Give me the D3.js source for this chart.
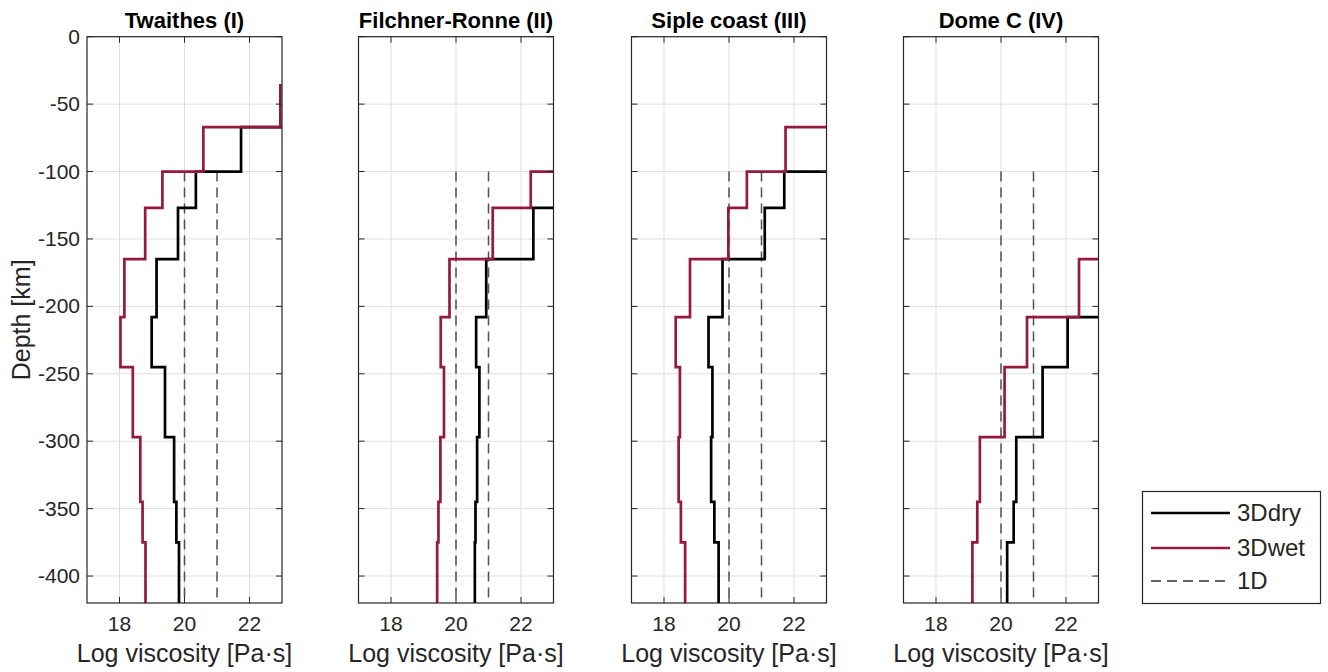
<!DOCTYPE html>
<html>
    <head>
        <script src="https://d3js.org/d3.v7.js"></script>
        <style>
            body{
                margin: 0;
                background: white;
            }
            text{
                font-family: 'Liberation Sans', Arial, sans-serif;
                fill: #262626;
            }
        </style>
    </head>
    <body>
        <div class='graph'></div>
        <script>
            // data: log10 viscosity per depth layer (km)
            const regions = ['Twaithes (I)', 'Filchner-Ronne (II)', 'Siple coast (III)', 'Dome C (IV)']
            const layerDepths = [35, 67, 100, 127, 165, 208, 245, 297, 345, 375, 420]

            // 24 = above the plotted range (clipped)
            const dryTwaithes = [24.0, 21.74, 20.35, 19.80, 19.14, 18.99, 19.40, 19.68, 19.75, 19.83]
            const wetTwaithes = [22.95, 20.58, 19.32, 18.79, 18.15, 18.03, 18.41, 18.64, 18.71, 18.80]
            const dryFilchner = [24.0, 24.0, 24.0, 22.38, 20.93, 20.62, 20.72, 20.65, 20.60, 20.58]
            const wetFilchner = [24.0, 24.0, 22.30, 21.13, 19.80, 19.53, 19.63, 19.52, 19.46, 19.42]
            const drySiple = [24.0, 24.0, 21.70, 21.10, 19.80, 19.37, 19.49, 19.45, 19.55, 19.68]
            const wetSiple = [24.0, 21.74, 20.55, 19.98, 18.80, 18.36, 18.49, 18.45, 18.52, 18.65]
            const dryDome = [24.0, 24.0, 24.0, 24.0, 24.0, 22.05, 21.28, 20.47, 20.39, 20.19]
            const wetDome = [24.0, 24.0, 24.0, 24.0, 22.40, 20.80, 20.11, 19.35, 19.27, 19.12]

            const oneDValues = [20, 21]
            const oneDDepths = [100, 420]

            const xTicks = [18, 20, 22]
            const yTicks = [0, -50, -100, -150, -200, -250, -300, -350, -400]
            const legendLabels = ['3Ddry', '3Dwet', '1D']

            const dry = [dryTwaithes, dryFilchner, drySiple, dryDome]
            const wet = [wetTwaithes, wetFilchner, wetSiple, wetDome]

            const w = 1328
            const h = 672
            const panelLeft = [87, 358.5, 631.5, 903.5]
            const panelW = 195
            const plotTop = 36.7
            const plotBottom = 603
            const wetColour = '#951a3b'
            const axisColour = '#262626'

            const svg = d3.select('.graph')
                    .append('svg')
                    .attr('width', w)
                    .attr('height', h)

            const y = d3.scaleLinear()
                        .domain([-420, 0])
                        .range([plotBottom, plotTop])

            function stairs(values){
                const pts = []
                values.forEach((v, i) => {
                    pts.push([v, -layerDepths[i]])
                    pts.push([v, -layerDepths[i + 1]])
                })
                return pts
            }

            regions.forEach((name, p) => {
                const left = panelLeft[p]
                const x = d3.scaleLinear()
                            .domain([17, 23])
                            .range([left, left + panelW])

                const g = svg.append('g')

                g.append('clipPath')
                    .attr('id', 'clip' + p)
                    .append('rect')
                    .attr('x', left)
                    .attr('y', plotTop)
                    .attr('width', panelW)
                    .attr('height', plotBottom - plotTop)

                // grid
                g.selectAll('.vgrid')
                    .data(xTicks)
                    .enter()
                    .append('line')
                    .attr('x1', d => x(d)).attr('x2', d => x(d))
                    .attr('y1', plotTop).attr('y2', plotBottom)
                    .attr('stroke', '#dfdfdf')
                g.selectAll('.hgrid')
                    .data(yTicks)
                    .enter()
                    .append('line')
                    .attr('x1', left).attr('x2', left + panelW)
                    .attr('y1', d => y(d)).attr('y2', d => y(d))
                    .attr('stroke', '#dfdfdf')

                const line = d3.line()
                                .x(d => x(d[0]))
                                .y(d => y(d[1]))

                const plot = g.append('g').attr('clip-path', 'url(#clip' + p + ')')

                oneDValues.forEach(v => {
                    plot.append('path')
                        .attr('d', line([[v, -oneDDepths[0]], [v, -oneDDepths[1]]]))
                        .attr('stroke', '#333')
                        .attr('stroke-opacity', 0.85)
                        .attr('stroke-width', 1.5)
                        .attr('stroke-dasharray', '10,6')
                        .attr('fill', 'none')
                })

                plot.append('path')
                    .attr('d', line(stairs(dry[p])))
                    .attr('stroke', '#000')
                    .attr('stroke-width', 2.7)
                    .attr('fill', 'none')

                plot.append('path')
                    .attr('d', line(stairs(wet[p])))
                    .attr('stroke', wetColour)
                    .attr('stroke-width', 2.7)
                    .attr('fill', 'none')

                // axes box + inward ticks
                g.append('rect')
                    .attr('x', left).attr('y', plotTop)
                    .attr('width', panelW).attr('height', plotBottom - plotTop)
                    .attr('fill', 'none')
                    .attr('stroke', axisColour)
                    .attr('stroke-width', 1.2)

                const tl = 6
                xTicks.forEach(t => {
                    g.append('line').attr('x1', x(t)).attr('x2', x(t)).attr('y1', plotBottom).attr('y2', plotBottom - tl).attr('stroke', axisColour)
                    g.append('line').attr('x1', x(t)).attr('x2', x(t)).attr('y1', plotTop).attr('y2', plotTop + tl).attr('stroke', axisColour)
                })
                yTicks.forEach(t => {
                    g.append('line').attr('x1', left).attr('x2', left + tl).attr('y1', y(t)).attr('y2', y(t)).attr('stroke', axisColour)
                    g.append('line').attr('x1', left + panelW).attr('x2', left + panelW - tl).attr('y1', y(t)).attr('y2', y(t)).attr('stroke', axisColour)
                })

                g.selectAll('.xtl')
                    .data(xTicks)
                    .enter()
                    .append('text')
                    .attr('x', d => x(d))
                    .attr('y', 631)
                    .attr('text-anchor', 'middle')
                    .style('font-size', '21px')
                    .text(d => d)

                if (p === 0) {
                    g.selectAll('.ytl')
                        .data(yTicks)
                        .enter()
                        .append('text')
                        .attr('x', left - 7)
                        .attr('y', d => y(d) + 7)
                        .attr('text-anchor', 'end')
                        .style('font-size', '21px')
                        .text(d => String(d))

                    g.append('text')
                        .attr('transform', 'translate(30,' + ((plotTop + plotBottom) / 2) + ') rotate(-90)')
                        .attr('text-anchor', 'middle')
                        .style('font-size', '25px')
                        .text('Depth [km]')
                }

                g.append('text')
                    .attr('x', left + panelW / 2)
                    .attr('y', 662)
                    .attr('text-anchor', 'middle')
                    .style('font-size', '25px')
                    .text('Log viscosity [Pa·s]')

                g.append('text')
                    .attr('x', left + panelW / 2)
                    .attr('y', 28)
                    .attr('text-anchor', 'middle')
                    .style('font-size', '22px')
                    .style('font-weight', 'bold')
                    .style('fill', '#000')
                    .text(name)
            })

            // legend
            const legendContainer = svg.append('g').attr('id', 'legend')
            legendContainer.append('rect')
                .attr('x', 1142.5).attr('y', 491.5)
                .attr('width', 178).attr('height', 112)
                .attr('fill', 'white')
                .attr('stroke', axisColour)
                .attr('stroke-width', 1.2)

            const legendStyle = [
                {stroke: '#000', dash: null, width: 2.7},
                {stroke: wetColour, dash: null, width: 2.7},
                {stroke: '#333', dash: '10,6', width: 1.5}
            ]
            const legendRowY = [513, 548, 581]

            const legend = legendContainer.selectAll('.item')
                .data(legendLabels)
                .enter()
                .append('g')
                .attr('transform', (d, i) => 'translate(1151,' + legendRowY[i] + ')')

            legend.append('line')
                .attr('x1', 0).attr('x2', 79)
                .attr('y1', 0).attr('y2', 0)
                .attr('stroke', (d, i) => legendStyle[i].stroke)
                .attr('stroke-width', (d, i) => legendStyle[i].width)
                .attr('stroke-dasharray', (d, i) => legendStyle[i].dash)

            legend.append('text')
                .attr('x', 86)
                .attr('y', 8)
                .style('font-size', '24px')
                .text(d => d)
        </script>
    </body>
</html>
